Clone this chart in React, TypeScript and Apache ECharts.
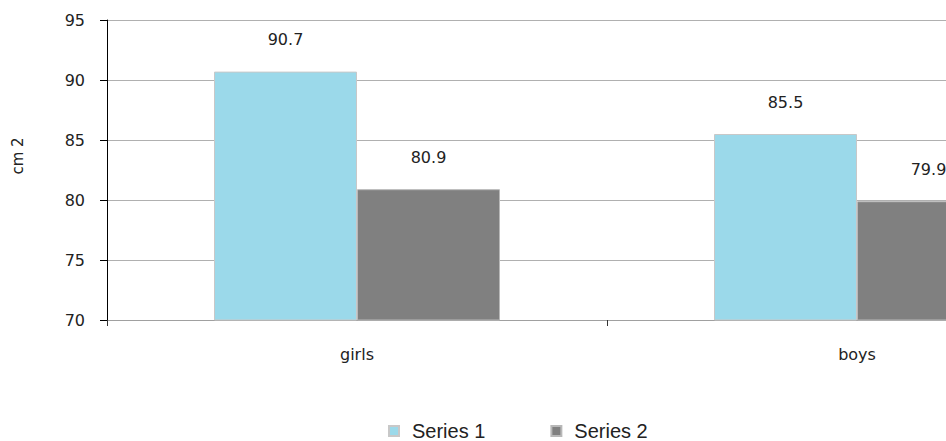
import React, { useEffect, useRef } from "react";
import * as echarts from "echarts";

const categories = ["girls", "boys"];
const series1 = [90.7, 85.5];
const series2 = [80.9, 79.9];
const seriesNames = ["Series 1", "Series 2"];
const yTicks = { min: 70, max: 95, interval: 5 };
const yTitle = "cm 2";

export default function App() {
  const ref = useRef<HTMLDivElement>(null);
  useEffect(() => {
    if (!ref.current) return;
    const chart = echarts.init(ref.current, undefined, { renderer: "svg" });
    const font = "DejaVu Sans";
    const labelStyle = {
      show: true,
      position: "top",
      distance: 24,
      fontFamily: font,
      fontSize: 16,
      color: "#222",
    };
    chart.setOption({
      animation: false,
      backgroundColor: "#fff",
      grid: { left: 107, top: 20, width: 1000, height: 300 },
      legend: {
        left: 388,
        top: 421,
        padding: 0,
        itemWidth: 10,
        itemHeight: 10,
        itemGap: 65,
        icon: "rect",
        data: seriesNames,
        textStyle: { fontFamily: "Liberation Sans", fontSize: 20, color: "#222", padding: [0, 0, 0, 8], lineHeight: 19 },
      },
      graphic: [
        {
          type: "text",
          x: 18,
          y: 156,
          rotation: Math.PI / 2,
          style: {
            text: yTitle,
            fontFamily: font,
            fontSize: 15,
            fill: "#222",
            align: "center",
            verticalAlign: "middle",
          },
        },
      ],
      xAxis: {
        type: "category",
        data: categories,
        axisLine: { show: true, lineStyle: { color: "#a0a0a0", width: 1 } },
        axisTick: { show: true, length: 6, lineStyle: { color: "#333" } },
        axisLabel: { margin: 26, fontFamily: font, fontSize: 16, color: "#222" },
      },
      yAxis: {
        type: "value",
        min: yTicks.min,
        max: yTicks.max,
        interval: yTicks.interval,
        axisLine: { show: true, lineStyle: { color: "#000", width: 1 } },
        axisTick: { show: true, length: 7, lineStyle: { color: "#000" } },
        axisLabel: { margin: 22, fontFamily: font, fontSize: 16, color: "#222" },
        splitLine: { show: true, lineStyle: { color: "#b0b0b0", width: 1 } },
      },
      series: [
        {
          name: seriesNames[0],
          type: "bar",
          data: series1,
          barWidth: 143,
          barGap: "0%",
          itemStyle: { color: "#9bd9ea", borderColor: "#c8c8c8", borderWidth: 1 },
          label: labelStyle,
        },
        {
          name: seriesNames[1],
          type: "bar",
          data: series2,
          barWidth: 143,
          barGap: "0%",
          itemStyle: { color: "#808080", borderColor: "#b8b8b8", borderWidth: 1 },
          label: labelStyle,
        },
      ],
    });
    return () => chart.dispose();
  }, []);
  return (
    <div style={{ position: "fixed", left: 0, top: 0, width: 946, height: 441, overflow: "hidden", background: "#fff" }}>
      <div ref={ref} style={{ width: 1200, height: 441 }} />
    </div>
  );
}
